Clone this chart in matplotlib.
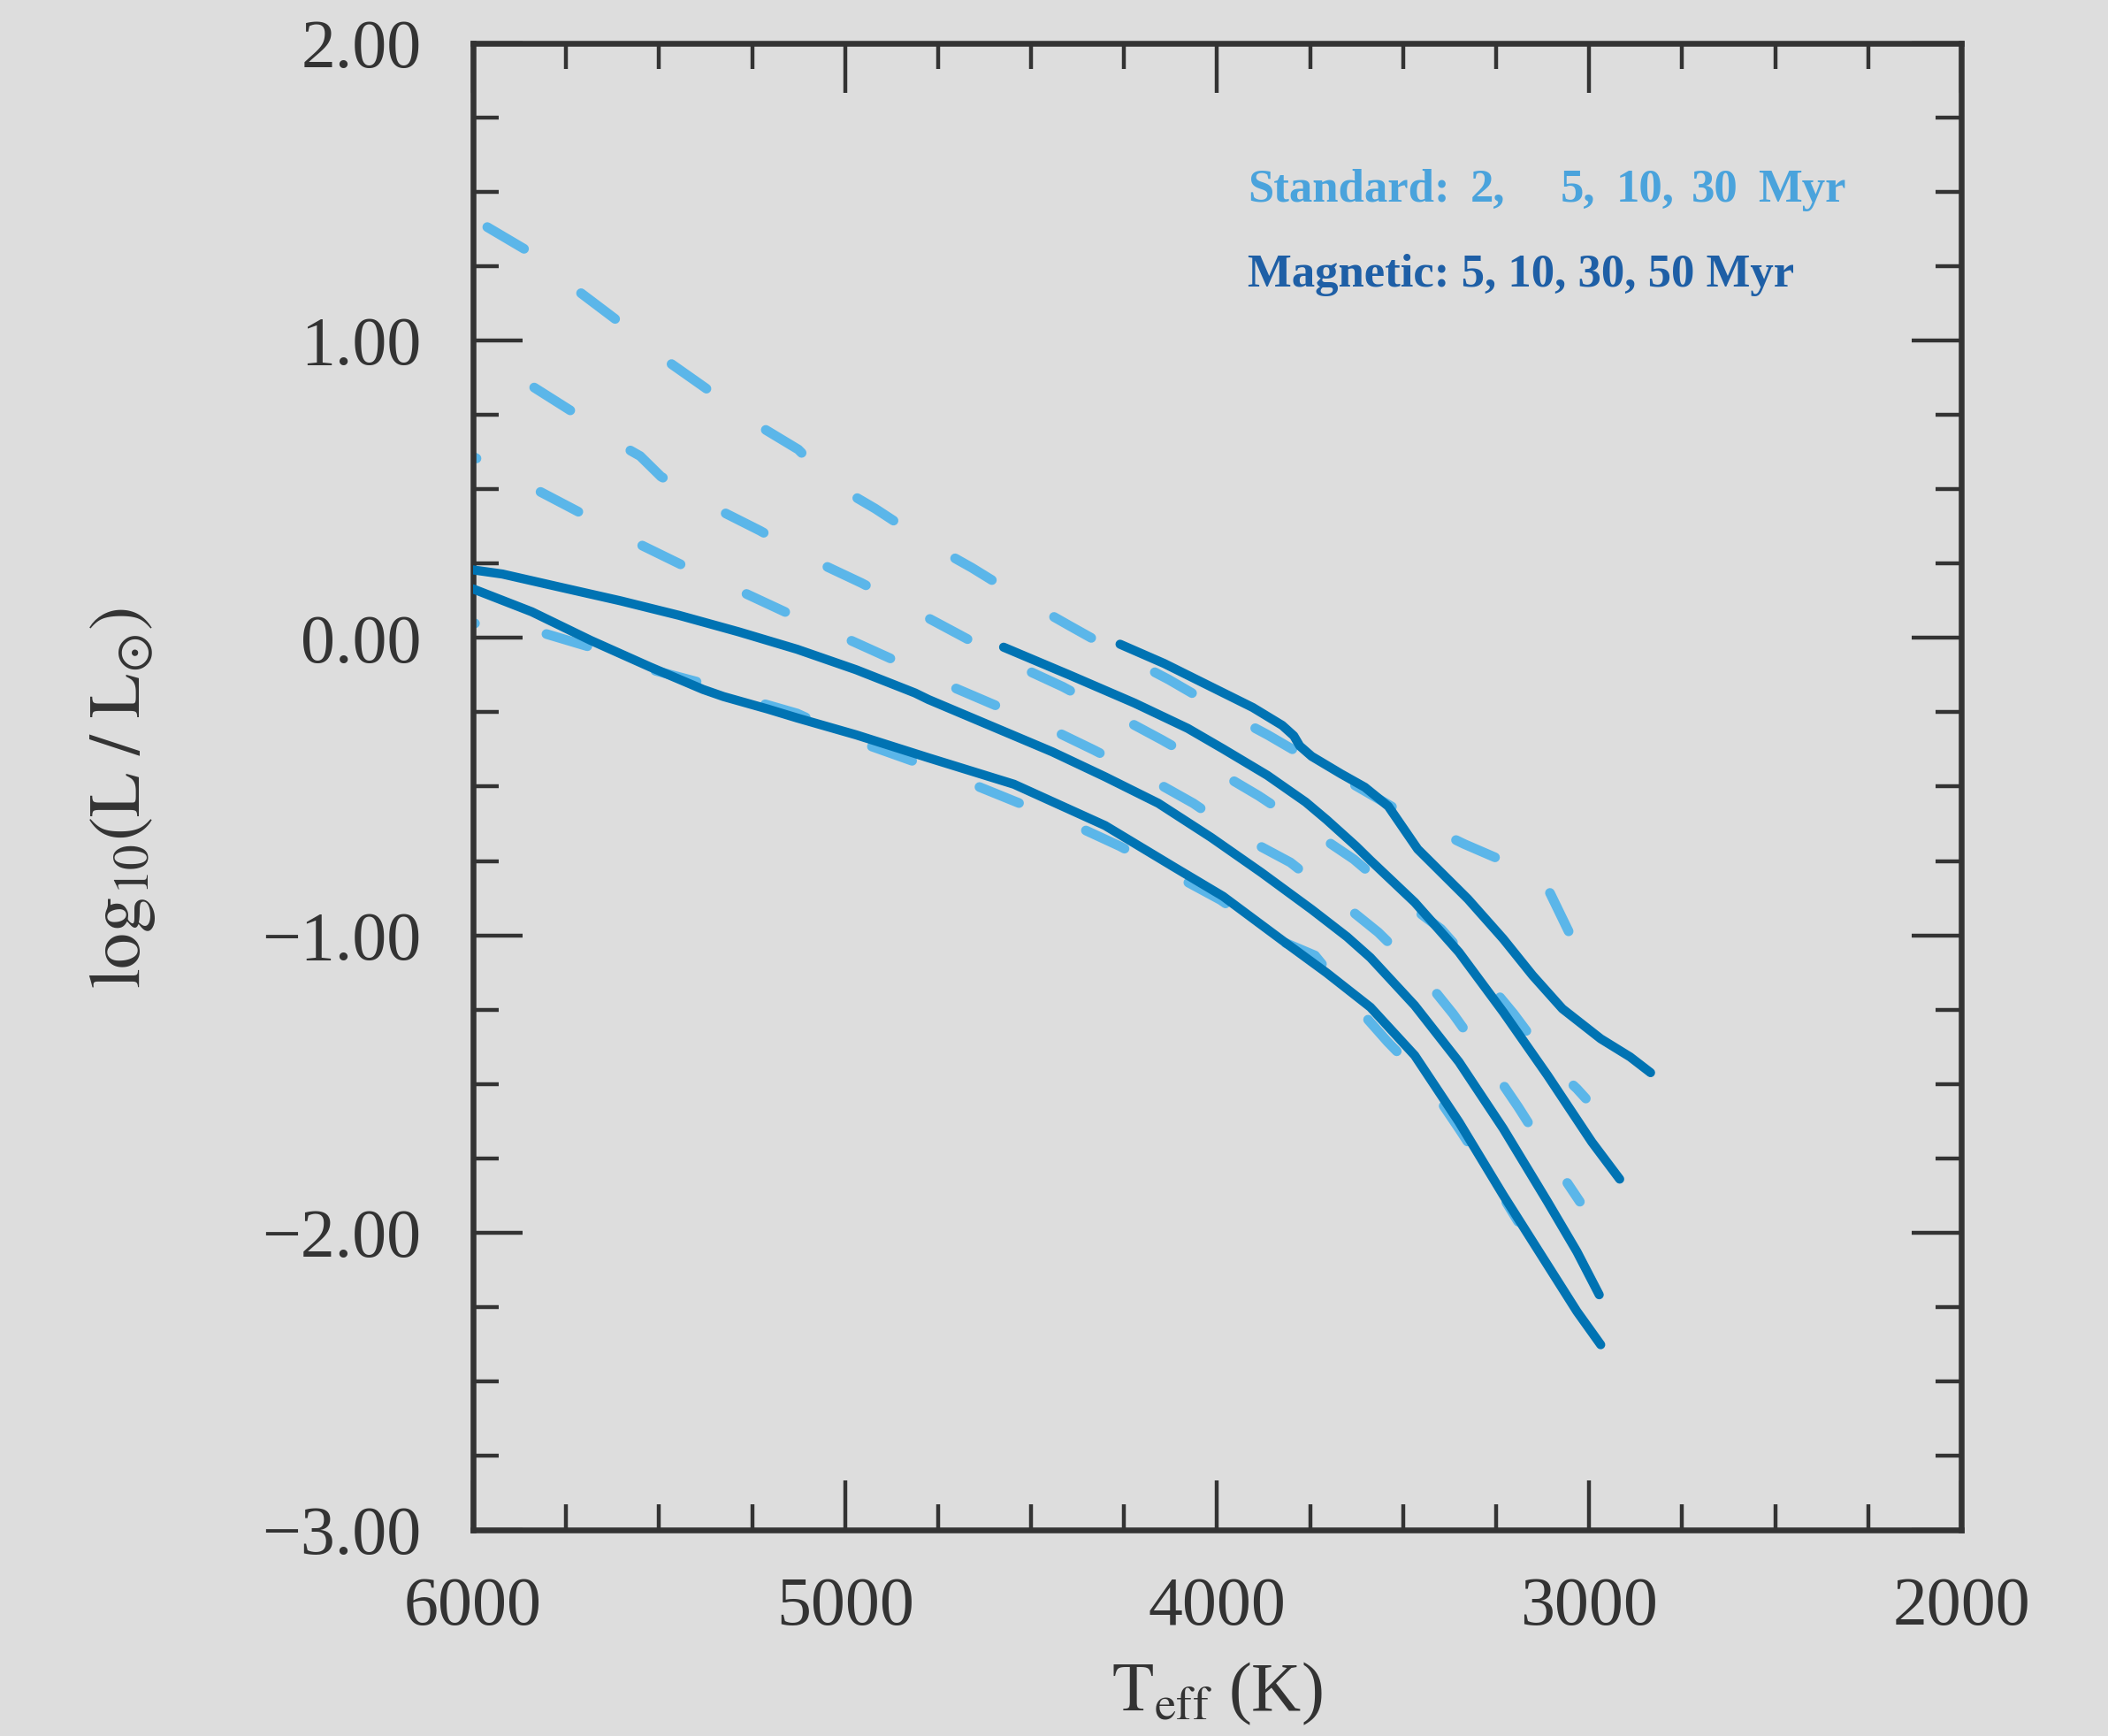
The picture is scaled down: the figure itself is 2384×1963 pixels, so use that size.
import numpy as np
import matplotlib
matplotlib.use('Agg')
import matplotlib.pyplot as plt
from matplotlib.ticker import MultipleLocator, FuncFormatter

plt.rcParams['font.family'] = ['Liberation Serif', 'DejaVu Serif']
plt.rcParams['mathtext.fontset'] = 'stix'

# standard isochrones (dashed): 2, 5, 10, 30 Myr
std_2_T = [6000, 5974, 5859, 5726, 5617, 5489, 5380, 5240, 5126, 5035, 4919, 4780, 4659, 4519, 4398,
           4258, 4130, 3991, 3864, 3724, 3640, 3463, 3336, 3201, 3171, 3128, 3104, 3028, 2979]
std_2_L = [1.41, 1.391, 1.306, 1.175, 1.072, 0.941, 0.845, 0.720, 0.634, 0.520, 0.435, 0.321, 0.236, 0.128, 0.042,
           -0.056, -0.140, -0.241, -0.326, -0.428, -0.488, -0.616, -0.693, -0.766, -0.755, -0.805, -0.861, -1.057, -1.210]

std_5_T = [6000, 5853, 5738, 5599, 5551, 5495, 5356, 5229, 5090, 4956, 4817, 4690, 4548, 4415, 4276,
           4148, 4015, 3888, 3754, 3633, 3517, 3398, 3293, 3203, 3100, 3033, 3009]
std_5_L = [0.972, 0.856, 0.765, 0.646, 0.612, 0.543, 0.441, 0.361, 0.264, 0.185, 0.094, 0.009, -0.087, -0.164, -0.257,
           -0.343, -0.437, -0.531, -0.642, -0.744, -0.867, -0.979, -1.128, -1.264, -1.437, -1.516, -1.549]

std_10_T = [6000, 5829, 5707, 5562, 5441, 5289, 5162, 5010, 4883, 4737, 4610, 4458, 4331, 4185, 4064,
            3930, 3803, 3675, 3567, 3449, 3366, 3267, 3191, 3100, 3025]
std_10_L = [0.61, 0.498, 0.418, 0.321, 0.247, 0.162, 0.088, 0.006, -0.066, -0.151, -0.219, -0.300, -0.377, -0.471, -0.556,
            -0.670, -0.755, -0.881, -0.990, -1.135, -1.264, -1.437, -1.577, -1.756, -1.896]

std_30_T = [6000, 5810, 5684, 5525, 5390, 5240, 5129, 4955, 4820, 4667, 4539, 4390, 4262, 4118, 3991,
            3833, 3737, 3614, 3542, 3429, 3350, 3262, 3191]
std_30_L = [0.050, 0.016, -0.031, -0.105, -0.150, -0.214, -0.254, -0.353, -0.413, -0.487, -0.552, -0.626, -0.700, -0.795, -0.881,
            -1.017, -1.068, -1.256, -1.358, -1.504, -1.650, -1.818, -1.963]

# magnetic isochrones (solid): 5, 10, 30, 50 Myr
mag_5_T = [4261, 4142, 4023, 3904, 3825, 3794, 3778, 3746, 3667, 3603, 3540, 3461, 3326, 3231, 3152,
           3072, 2969, 2890, 2835]
mag_5_L = [-0.021, -0.086, -0.160, -0.234, -0.294, -0.329, -0.363, -0.398, -0.457, -0.502, -0.566, -0.710, -0.878, -1.012, -1.135,
           -1.247, -1.348, -1.409, -1.462]

mag_10_T = [4574, 4396, 4222, 4079, 3984, 3865, 3762, 3706, 3627, 3588, 3469, 3350, 3231, 3112, 2993, 2918]
mag_10_L = [-0.031, -0.125, -0.219, -0.304, -0.373, -0.462, -0.552, -0.611, -0.700, -0.748, -0.889, -1.057, -1.258, -1.471, -1.695, -1.820]

mag_30_T = [6000, 5921, 5763, 5604, 5446, 5287, 5129, 4970, 4812, 4776, 4443, 4301, 4158, 4016, 3881,
            3746, 3651, 3588, 3469, 3350, 3231, 3112, 3033, 2973]
mag_30_L = [0.229, 0.215, 0.170, 0.125, 0.076, 0.021, -0.038, -0.107, -0.185, -0.207, -0.383, -0.467, -0.556, -0.671, -0.789,
            -0.913, -1.005, -1.075, -1.236, -1.426, -1.650, -1.896, -2.064, -2.209]

mag_50_T = [6000, 5842, 5684, 5525, 5382, 5327, 5208, 5129, 4970, 4776, 4546, 4301, 4118, 3984, 3825,
            3706, 3588, 3469, 3350, 3231, 3112, 3033, 2969]
mag_50_L = [0.165, 0.088, -0.008, -0.097, -0.173, -0.197, -0.239, -0.269, -0.326, -0.403, -0.492, -0.631, -0.769, -0.869, -1.017,
            -1.126, -1.242, -1.404, -1.628, -1.874, -2.109, -2.265, -2.377]

x_ticks = [6000, 5000, 4000, 3000, 2000]
y_ticks = [2.0, 1.0, 0.0, -1.0, -2.0, -3.0]

bg = '#dddddd'
ink = '#333333'
light = '#5bb6e9'
dark = '#0073b3'

fig = plt.figure(figsize=(11.92, 9.815), dpi=200, facecolor=bg)
ax = fig.add_axes([0.22441, 0.11870, 0.70596, 0.85634])
ax.set_facecolor(bg)

# dashed standard tracks, (offset, (on, off)) in linewidth units
dash = (4.4, 7.45)
std = [(std_2_T, std_2_L, 10.15), (std_5_T, std_5_L, 4.4),
       (std_10_T, std_10_L, 4.0), (std_30_T, std_30_L, 4.2)]
for T, L, off in std:
    ax.plot(T, L, color=light, lw=3.95, linestyle=(off, dash),
            dash_capstyle='round', dash_joinstyle='round', zorder=2)

for T, L in [(mag_5_T, mag_5_L), (mag_10_T, mag_10_L), (mag_30_T, mag_30_L), (mag_50_T, mag_50_L)]:
    ax.plot(T, L, color=dark, lw=3.7, solid_capstyle='round',
            solid_joinstyle='round', zorder=3)

ax.set_xlim(6000, 2000)
ax.set_ylim(-3, 2)
ax.set_xticks(x_ticks)
ax.set_yticks(y_ticks)
ax.xaxis.set_minor_locator(MultipleLocator(250))
ax.yaxis.set_minor_locator(MultipleLocator(0.25))
ax.yaxis.set_major_formatter(FuncFormatter(lambda v, p: ('%.2f' % v).replace('-', '\u2212')))
ax.xaxis.set_major_formatter(FuncFormatter(lambda v, p: '%d' % v))

ax.tick_params(which='both', direction='in', top=True, right=True,
               color=ink, labelcolor=ink, labelsize=28)
ax.tick_params(which='major', length=20, width=1.6)
ax.tick_params(which='minor', length=10.5, width=1.6)
ax.tick_params(axis='y', pad=21)
ax.tick_params(axis='x', pad=19)
for s in ax.spines.values():
    s.set_color(ink)
    s.set_linewidth(2.35)

ax.set_xlabel(r'$\mathrm{T_{eff}}$ (K)', fontsize=28, color=ink)
ax.set_ylabel(r'$\mathrm{log}_{10}(\mathrm{L\ /\ L}_{\odot})$', fontsize=29.5, color=ink)
ax.xaxis.set_label_coords(0.5, -0.088)
ax.yaxis.set_label_coords(-0.212, 0.492)

# legend text
W, H = 2384.0, 1963.0
std_words = [('Standard:', 1411), ('2,', 1663), ('5,', 1765), ('10,', 1828), ('30', 1913), ('Myr', 1988)]
for word, px in std_words:
    fig.text(px / W, 1 - 228 / H, word, color='#4aa3dc', fontsize=19,
             fontweight='bold', ha='left', va='baseline')
fig.text(1411 / W, 1 - 324 / H, 'Magnetic: 5, 10, 30, 50 Myr', color='#1e5fa6',
         fontsize=19, fontweight='bold', ha='left', va='baseline')

fig.savefig('out.png', dpi=200, facecolor=bg)
